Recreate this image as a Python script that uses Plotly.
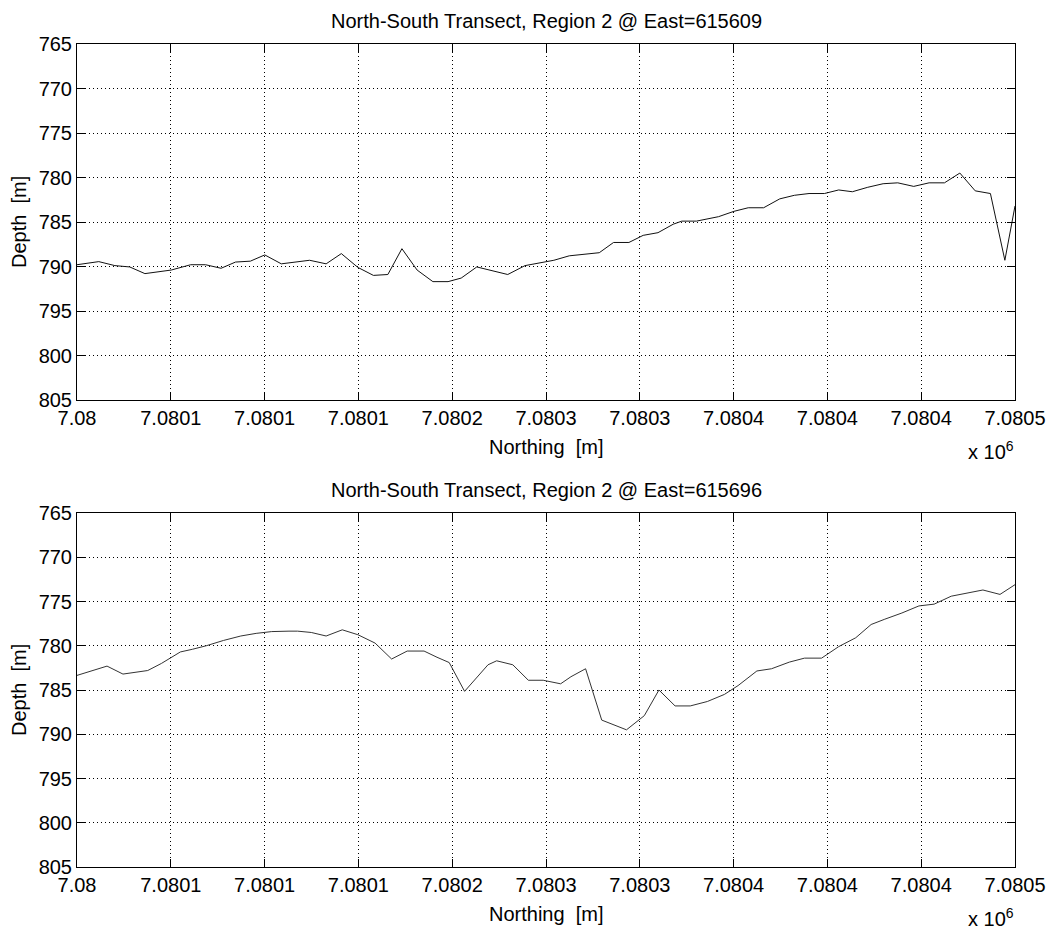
import plotly.graph_objects as go

BASE_N = 7080000

# Top transect (East=615609): northing offset [m] from 7.08e6, depth [m]
north_top = [0, 11.6, 20.2, 28.1, 36.2, 44.1, 50.2, 60.6, 68.5, 76.8, 84.5, 92.4,
             100.1, 108.9, 116.6, 124.0, 132.8, 140.9, 149.7, 158.0, 165.7, 173.2,
             181.3, 189.7, 197.8, 204.8, 213.1, 221.3, 229.6, 238.8, 244.5, 254.2,
             262.4, 270.6, 278.4, 286.0, 294.2, 301.8, 309.7, 317.8, 322.4, 330.2,
             337.8, 342.0, 350.2, 357.8, 366.0, 374.6, 382.4, 390.2, 398.4, 406.0,
             413.3, 421.5, 429.7, 437.5, 446.0, 454.2, 462.4, 470.6, 478.8, 486.9,
             494.6, 500.0]
depth_top = [789.8, 789.45, 789.9, 790.05, 790.8, 790.6, 790.4, 789.8, 789.8, 790.2,
             789.5, 789.4, 788.7, 789.7, 789.5, 789.3, 789.7, 788.55, 790.1, 791.0,
             790.9, 788.0, 790.4, 791.7, 791.7, 791.3, 790.05, 790.5, 790.9, 789.9,
             789.7, 789.3, 788.8, 788.65, 788.45, 787.3, 787.3, 786.5, 786.2, 785.25,
             784.9, 784.9, 784.6, 784.4, 783.8, 783.4, 783.4, 782.4, 782.0, 781.8,
             781.8, 781.4, 781.6, 781.1, 780.7, 780.6, 781.0, 780.6, 780.6, 779.5,
             781.5, 781.8, 789.3, 783.2]

# Bottom transect (East=615696)
north_bot = [0, 8.3, 16.0, 24.5, 32.2, 37.7, 45.0, 55.1, 61.5, 68.9, 78.1, 87.3,
             95.5, 103.8, 113.0, 117.6, 124.9, 132.8, 141.4, 149.7, 158.9, 167.7,
             176.0, 185.0, 191.9, 198.4, 206.6, 219.1, 223.7, 232.3, 240.6, 248.5,
             257.8, 263.3, 271.1, 279.7, 292.9, 302.4, 310.2, 318.8, 326.9, 336.0,
             345.1, 352.4, 362.4, 370.2, 379.7, 387.8, 396.9, 406.0, 415.1, 423.3,
             430.6, 439.7, 448.8, 456.9, 466.0, 474.2, 482.9, 492.0, 500.0]
depth_bot = [783.35, 782.8, 782.3, 783.2, 783.0, 782.8, 782.0, 780.7, 780.4, 780.0,
             779.4, 778.9, 778.6, 778.4, 778.35, 778.35, 778.5, 778.9, 778.2, 778.75,
             779.7, 781.5, 780.6, 780.6, 781.3, 781.9, 785.15, 782.15, 781.7, 782.15,
             783.9, 783.9, 784.3, 783.5, 782.6, 788.4, 789.5, 787.9, 785.0, 786.8,
             786.8, 786.3, 785.5, 784.5, 782.85, 782.6, 781.85, 781.4, 781.4, 780.1,
             779.1, 777.6, 777.0, 776.3, 775.5, 775.3, 774.4, 774.1, 773.7, 774.2,
             773.1]

x_tick_offsets = [0, 50, 100, 150, 200, 250, 300, 350, 400, 450, 500]
x_tick_labels = ["7.08", "7.0801", "7.0801", "7.0801", "7.0802", "7.0803",
                 "7.0803", "7.0804", "7.0804", "7.0804", "7.0805"]
y_ticks = [765, 770, 775, 780, 785, 790, 795, 800, 805]
titles = ["North-South Transect, Region 2 @ East=615609",
          "North-South Transect, Region 2 @ East=615696"]

W, H = 1055, 936
FONT = "Liberation Sans, Arial, sans-serif"
FS = 20

fig = go.Figure()
fig.add_trace(go.Scatter(x=[BASE_N + v for v in north_top], y=depth_top, mode="lines",
                         line=dict(color="#111111", width=1), xaxis="x", yaxis="y",
                         showlegend=False, hoverinfo="skip"))
fig.add_trace(go.Scatter(x=[BASE_N + v for v in north_bot], y=depth_bot, mode="lines",
                         line=dict(color="#333333", width=1), xaxis="x2", yaxis="y2",
                         showlegend=False, hoverinfo="skip"))

xl, xr = 77 / W, 1015 / W
dom_top = [1 - 400 / H, 1 - 44 / H]
dom_bot = [1 - 867 / H, 1 - 513 / H]

xtv = [BASE_N + v for v in x_tick_offsets]

def xaxis(anchor):
    return dict(domain=[xl, xr], range=[BASE_N, BASE_N + 500], anchor=anchor,
                tickmode="array", tickvals=xtv, ticktext=x_tick_labels, automargin=False,
                showgrid=True, gridcolor="#000000", griddash="1px,3px", gridwidth=1,
                showline=True, linecolor="#000000", linewidth=1, mirror="ticks",
                ticks="inside", ticklen=8, tickcolor="#000000", zeroline=False,
                tickfont=dict(family=FONT, size=FS, color="#000000"))

def yaxis(dom, anchor):
    return dict(domain=dom, range=[805, 765], anchor=anchor, automargin=False,
                tickmode="array", tickvals=y_ticks,
                showgrid=True, gridcolor="#000000", griddash="1px,3px", gridwidth=1,
                showline=True, linecolor="#000000", linewidth=1, mirror="ticks",
                ticks="inside", ticklen=8, tickcolor="#000000", zeroline=False,
                tickfont=dict(family=FONT, size=FS, color="#000000"))

annotations = []
for i, (top_px, bot_px) in enumerate([(44, 400), (513, 867)]):
    annotations.append(dict(text=titles[i], x=(77 + 1015) / 2 / W, y=1 - (top_px - 23) / H,
                            xref="paper", yref="paper", xanchor="center", yanchor="middle",
                            showarrow=False, font=dict(family=FONT, size=FS, color="#000")))
    annotations.append(dict(text="Northing\u00a0 [m]", x=(77 + 1015) / 2 / W,
                            y=1 - (bot_px + 47) / H, xref="paper", yref="paper",
                            xanchor="center", yanchor="middle", showarrow=False,
                            font=dict(family=FONT, size=FS, color="#000")))
    annotations.append(dict(text="Depth\u00a0 [m]", x=19 / W, y=1 - ((top_px + bot_px) / 2) / H,
                            xref="paper", yref="paper", xanchor="center", yanchor="middle",
                            textangle=-90, showarrow=False,
                            font=dict(family=FONT, size=FS, color="#000")))
    annotations.append(dict(text="x 10<sup>6</sup>", x=1016 / W, y=1 - (bot_px + 50) / H,
                            xref="paper", yref="paper", xanchor="right", yanchor="middle",
                            showarrow=False, font=dict(family=FONT, size=FS, color="#000")))

fig.update_layout(
    width=W, height=H, autosize=False,
    margin=dict(l=0, r=0, t=0, b=0, pad=0, autoexpand=False),
    paper_bgcolor="#ffffff", plot_bgcolor="#ffffff",
    xaxis=xaxis("y"), yaxis=yaxis(dom_top, "x"),
    xaxis2=xaxis("y2"), yaxis2=yaxis(dom_bot, "x2"),
    annotations=annotations,
    showlegend=False,
)

fig.write_html("out.html", include_plotlyjs=True, full_html=True,
               config={"responsive": False, "displayModeBar": False},
               post_script="document.body.style.margin='0';document.body.style.overflow='hidden';")
